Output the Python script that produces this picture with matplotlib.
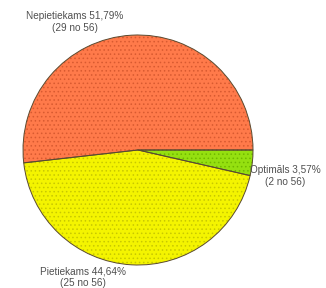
import matplotlib
matplotlib.use("Agg")
import matplotlib.pyplot as plt

# dati
labels = ["Nepietiekams", "Pietiekams", "Optimāls"]
counts = [29, 25, 2]
total = 56
colors = ["#ff7a4a", "#f4f400", "#95e010"]
dots = ["#d85a30", "#c8c800", "#70b800"]

plt.rcParams["font.family"] = ["Liberation Sans", "DejaVu Sans"]
plt.rcParams["hatch.linewidth"] = 0.6

fig = plt.figure(figsize=(3.26, 2.88), dpi=100)
ax = fig.add_axes([0, 0, 1, 1])

cx, cy, r = 138, 138, 115

wedges, _ = ax.pie(counts, colors=colors, startangle=0, counterclock=True,
                   center=(cx, cy), radius=r, frame=True,
                   wedgeprops=dict(linewidth=0))
for w, d in zip(wedges, dots):
    w.set_hatch("....")
    w.set_edgecolor(d)
    w.set_linewidth(0)

# kontūras
ax.pie(counts, colors=["none"] * 3, startangle=0, counterclock=True,
       center=(cx, cy), radius=r, frame=True,
       wedgeprops=dict(linewidth=0.7, edgecolor="#5a4a30", fill=False))
ax.set_xlim(0, 326)
ax.set_ylim(0, 288)
ax.set_aspect("auto")
ax.axis("off")

def pct(n):
    return f"{n / total * 100:.2f}".replace(".", ",") + "%"

txt = dict(fontsize=7.2, color="#505050", ha="center", va="center", linespacing=1.25)
ax.text(75, 288 - 22, f"{labels[0]} {pct(counts[0])}\n({counts[0]} no {total})", **txt)
ax.text(83, 288 - 277, f"{labels[1]} {pct(counts[1])}\n({counts[1]} no {total})", **txt)
ax.text(285, 288 - 176, f"{labels[2]} {pct(counts[2])}\n({counts[2]} no {total})", **txt)

fig.savefig("out.png", dpi=100)
